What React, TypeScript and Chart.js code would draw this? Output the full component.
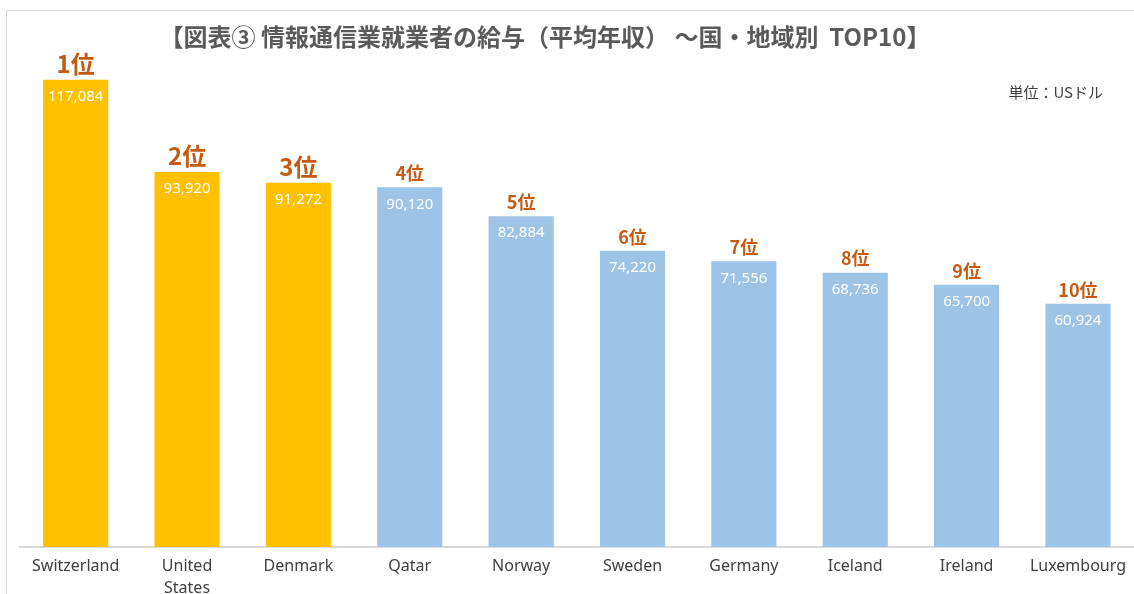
import React, { useEffect, useRef } from "react";
import { Chart, registerables } from "chart.js";

Chart.register(...registerables);

const countries: (string | string[])[] = [
  "Switzerland",
  ["United", "States"],
  "Denmark",
  "Qatar",
  "Norway",
  "Sweden",
  "Germany",
  "Iceland",
  "Ireland",
  "Luxembourg",
];
const salaries = [117084, 93920, 91272, 90120, 82884, 74220, 71556, 68736, 65700, 60924];
const rankLabels = ["1位", "2位", "3位", "4位", "5位", "6位", "7位", "8位", "9位", "10位"];
const titleText = "【図表③ 情報通信業就業者の給与（平均年収） ～国・地域別  TOP10】";
const unitText = "単位：USドル";
const topColor = "#FFC000";
const otherColor = "#9DC3E6";
const highlightCount = 3;

const labelPlugin = {
  id: "customLabels",
  beforeDraw(chart: any) {
    const ctx = chart.ctx;
    ctx.save();
    ctx.strokeStyle = "#d9d9d9";
    ctx.lineWidth = 1;
    ctx.beginPath();
    ctx.moveTo(6.5, 594);
    ctx.lineTo(6.5, 10.5);
    ctx.lineTo(1134, 10.5);
    ctx.stroke();
    ctx.restore();
  },
  afterDatasetsDraw(chart: any) {
    const ctx = chart.ctx;
    const meta = chart.getDatasetMeta(0);
    meta.data.forEach((bar: any, i: number) => {
      const { x, y } = bar.getProps(["x", "y"], true);
      ctx.save();
      ctx.textAlign = "center";
      ctx.textBaseline = "middle";
      ctx.fillStyle = "#ffffff";
      ctx.font = "15px 'Noto Sans'";
      ctx.fillText(salaries[i].toLocaleString("en-US"), x, y + 17);
      const big = i < highlightCount;
      ctx.fillStyle = "#C55A11";
      ctx.font = `bold ${big ? 24 : 18}px 'Noto Sans CJK JP'`;
      ctx.fillText(rankLabels[i], x, y - (big ? 16 : 14));
      ctx.restore();
    });
  },
  afterDraw(chart: any) {
    const ctx = chart.ctx;
    ctx.save();
    ctx.textBaseline = "middle";
    ctx.textAlign = "center";
    ctx.fillStyle = "#5a5a5a";
    ctx.font = "bold 24px 'Noto Sans CJK JP'";
    ctx.fillText(titleText, 545, 37);
    ctx.textAlign = "right";
    ctx.fillStyle = "#404040";
    ctx.font = "15px 'Noto Sans CJK JP'";
    ctx.fillText(unitText, 1103, 92);
    ctx.restore();
  },
};

export default function App() {
  const canvasRef = useRef<HTMLCanvasElement | null>(null);

  useEffect(() => {
    if (!canvasRef.current) return;
    const chart = new Chart(canvasRef.current, {
      type: "bar",
      data: {
        labels: countries,
        datasets: [
          {
            data: salaries,
            backgroundColor: salaries.map((_, i) => (i < highlightCount ? topColor : otherColor)),
            borderWidth: 0,
            categoryPercentage: 1,
            barPercentage: 0.585,
          },
        ],
      },
      options: {
        animation: false,
        responsive: true,
        maintainAspectRatio: false,
        layout: { padding: { top: 68, left: 20, right: 0, bottom: 0 } },
        plugins: {
          legend: { display: false },
          title: { display: false },
          tooltip: { enabled: false },
        },
        scales: {
          x: {
            grid: { display: false, drawTicks: false },
            border: { display: true, color: "#d9d9d9", width: 2 },
            ticks: {
              autoSkip: false,
              maxRotation: 0,
              minRotation: 0,
              padding: 8,
              color: "#404040",
              font: { size: 16, family: "'Noto Sans', sans-serif", lineHeight: 1.375 },
            },
            afterFit: (scale: any) => {
              scale.height = 47;
            },
          },
          y: {
            display: false,
            min: 0,
            max: 120000,
          },
        },
      },
      plugins: [labelPlugin],
    });
    return () => chart.destroy();
  }, []);

  return (
    <div style={{ position: "absolute", left: 0, top: 0, width: 1134, height: 594, background: "#fff" }}>
      <canvas ref={canvasRef} />
    </div>
  );
}
